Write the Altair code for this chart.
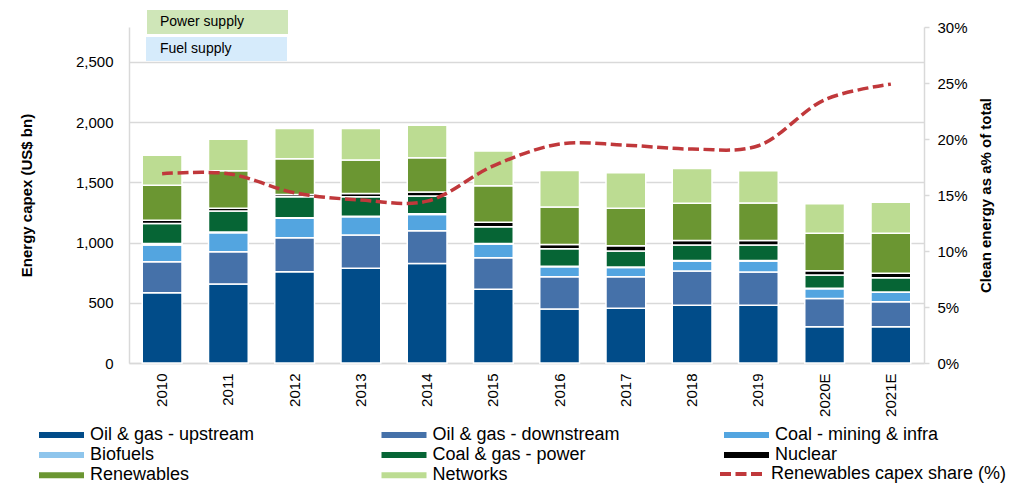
import altair as alt
import pandas as pd

years = ["2010", "2011", "2012", "2013", "2014", "2015", "2016", "2017", "2018", "2019", "2020E", "2021E"]

categories = ["Oil & gas - upstream", "Oil & gas - downstream", "Coal - mining & infra",
              "Biofuels", "Coal & gas - power", "Nuclear", "Renewables", "Networks"]
colors = ["#014c89", "#4571a9", "#53a5e0", "#8ec5ec", "#066535", "#000000", "#6b9632", "#bcdc92"]

upstream = [583, 656, 758, 786, 827, 612, 448, 454, 479, 479, 301, 301]
downstream = [258, 268, 282, 276, 271, 262, 268, 262, 285, 276, 235, 208]
coal_mining = [139, 158, 161, 152, 136, 114, 84, 78, 83, 92, 81, 78]
biofuels = [12, 6, 5, 5, 5, 5, 4, 4, 4, 4, 3, 3]
coal_gas_power = [167, 174, 175, 162, 147, 138, 145, 132, 128, 128, 110, 118]
nuclear = [27, 22, 19, 27, 33, 37, 36, 44, 39, 39, 36, 37]
renewables = [290, 312, 296, 277, 285, 304, 310, 310, 308, 311, 311, 332]
networks = [249, 261, 252, 263, 271, 288, 304, 296, 290, 267, 245, 257]

share_pct = [16.9, 16.9, 15.2, 14.55, 14.45, 17.6, 19.55, 19.45, 19.1, 19.4, 23.5, 24.9]
line_label = "Renewables capex share (%)"

series = [upstream, downstream, coal_mining, biofuels, coal_gas_power, nuclear, renewables, networks]

rows = []
for ci, (cat, vals) in enumerate(zip(categories, series)):
    for yr, v in zip(years, vals):
        rows.append({"year": yr, "category": cat, "order": ci, "value": v})
bars_df = pd.DataFrame(rows)

line_df = pd.DataFrame({"year": years, "share": [s / 100 for s in share_pct], "label": line_label})

FONT = "Liberation Sans"
GRID = "#d9d9d9"
RED = "#c0383b"

x_enc = alt.X("year:N", sort=years,
              scale=alt.Scale(paddingInner=0.4, paddingOuter=0.2),
              axis=alt.Axis(title=None, labelAngle=270, labelFontSize=15, labelColor="#000000",
                            ticks=False, labelPadding=10, domainColor=GRID, domainWidth=1.5))

bars = alt.Chart(bars_df).mark_bar(stroke="white", strokeWidth=1.5).encode(
    x=x_enc,
    y=alt.Y("sum(value):Q", stack="zero",
            scale=alt.Scale(domain=[0, 2790], nice=False),
            axis=alt.Axis(orient="left", values=[0, 500, 1000, 1500, 2000, 2500], format=",.0f",
                          title="Energy capex (US$ bn)", titleFontSize=15, titleFontWeight="bold",
                          titleColor="#000000", titlePadding=41,
                          labelFontSize=15, labelColor="#000000", labelPadding=16,
                          ticks=False, grid=True, gridColor=GRID, gridWidth=1.5,
                          domainColor=GRID, domainWidth=1.5)),
    color=alt.Color("category:N", sort=categories,
                    scale=alt.Scale(domain=categories, range=colors),
                    legend=alt.Legend(orient="none", direction="horizontal", legendX=-94, legendY=399,
                                      columns=3, gridAlign="all", columnPadding=99.5, rowPadding=2.1,
                                      symbolType="M-1,-0.6H8V0.6H-1Z", symbolSize=100,
                                      symbolStrokeWidth=0, labelFontSize=18, labelOffset=37,
                                      labelLimit=400, labelColor="#000000", title=None, padding=0)),
    order=alt.Order("order:Q", sort="ascending"),
)

line = alt.Chart(line_df).mark_line(color=RED, strokeWidth=3.5, interpolate="catmull-rom").encode(
    x=alt.X("year:N", sort=years),
    y=alt.Y("share:Q", scale=alt.Scale(domain=[0, 0.30], nice=False),
            axis=alt.Axis(orient="right", values=[0, 0.05, 0.10, 0.15, 0.20, 0.25, 0.30], format=".0%",
                          title="Clean energy as a% of total", titleFontSize=15, titleFontWeight="bold",
                          titleColor="#000000", titleAngle=270, titleBaseline="top", titlePadding=11,
                          labelFontSize=15, labelColor="#000000", labelPadding=8,
                          ticks=True, tickSize=5, tickColor=GRID, tickWidth=1.5, grid=False,
                          domainColor=GRID, domainWidth=1.5)),
    strokeDash=alt.StrokeDash("label:N", scale=alt.Scale(domain=[line_label], range=[[11, 4.5]]),
                              legend=alt.Legend(orient="none", legendX=587, legendY=438,
                                                symbolType="M-1,0H8", symbolSize=100,
                                                symbolStrokeColor=RED, symbolStrokeWidth=4,
                                                labelFontSize=18, labelOffset=37, labelLimit=400,
                                                labelColor="#000000", title=None, padding=0)),
)

one = alt.Data(values=[{"k": 1}])
power_box = alt.Chart(one).mark_rect(color="#cfe6b8").encode(
    x=alt.value(18), x2=alt.value(159), y=alt.value(-17), y2=alt.value(7))
fuel_box = alt.Chart(one).mark_rect(color="#d6ebfb").encode(
    x=alt.value(17), x2=alt.value(158), y=alt.value(10), y2=alt.value(34))
power_text = alt.Chart(one).mark_text(text="Power supply", align="left", baseline="middle",
                                      fontSize=14, color="#000000", font=FONT).encode(
    x=alt.value(31), y=alt.value(-5))
fuel_text = alt.Chart(one).mark_text(text="Fuel supply", align="left", baseline="middle",
                                     fontSize=14, color="#000000", font=FONT).encode(
    x=alt.value(31), y=alt.value(22))

chart = alt.layer(bars, line, power_box, fuel_box, power_text, fuel_text).resolve_scale(
    y="independent"
).properties(
    width=795, height=336,
    autosize=alt.AutoSizeParams(type="none"),
    padding={"left": 121, "top": 19, "right": 83, "bottom": 125},
).configure(font=FONT).configure_view(stroke=None)

chart.save("out.html", embed_options={"renderer": "svg", "actions": False})
